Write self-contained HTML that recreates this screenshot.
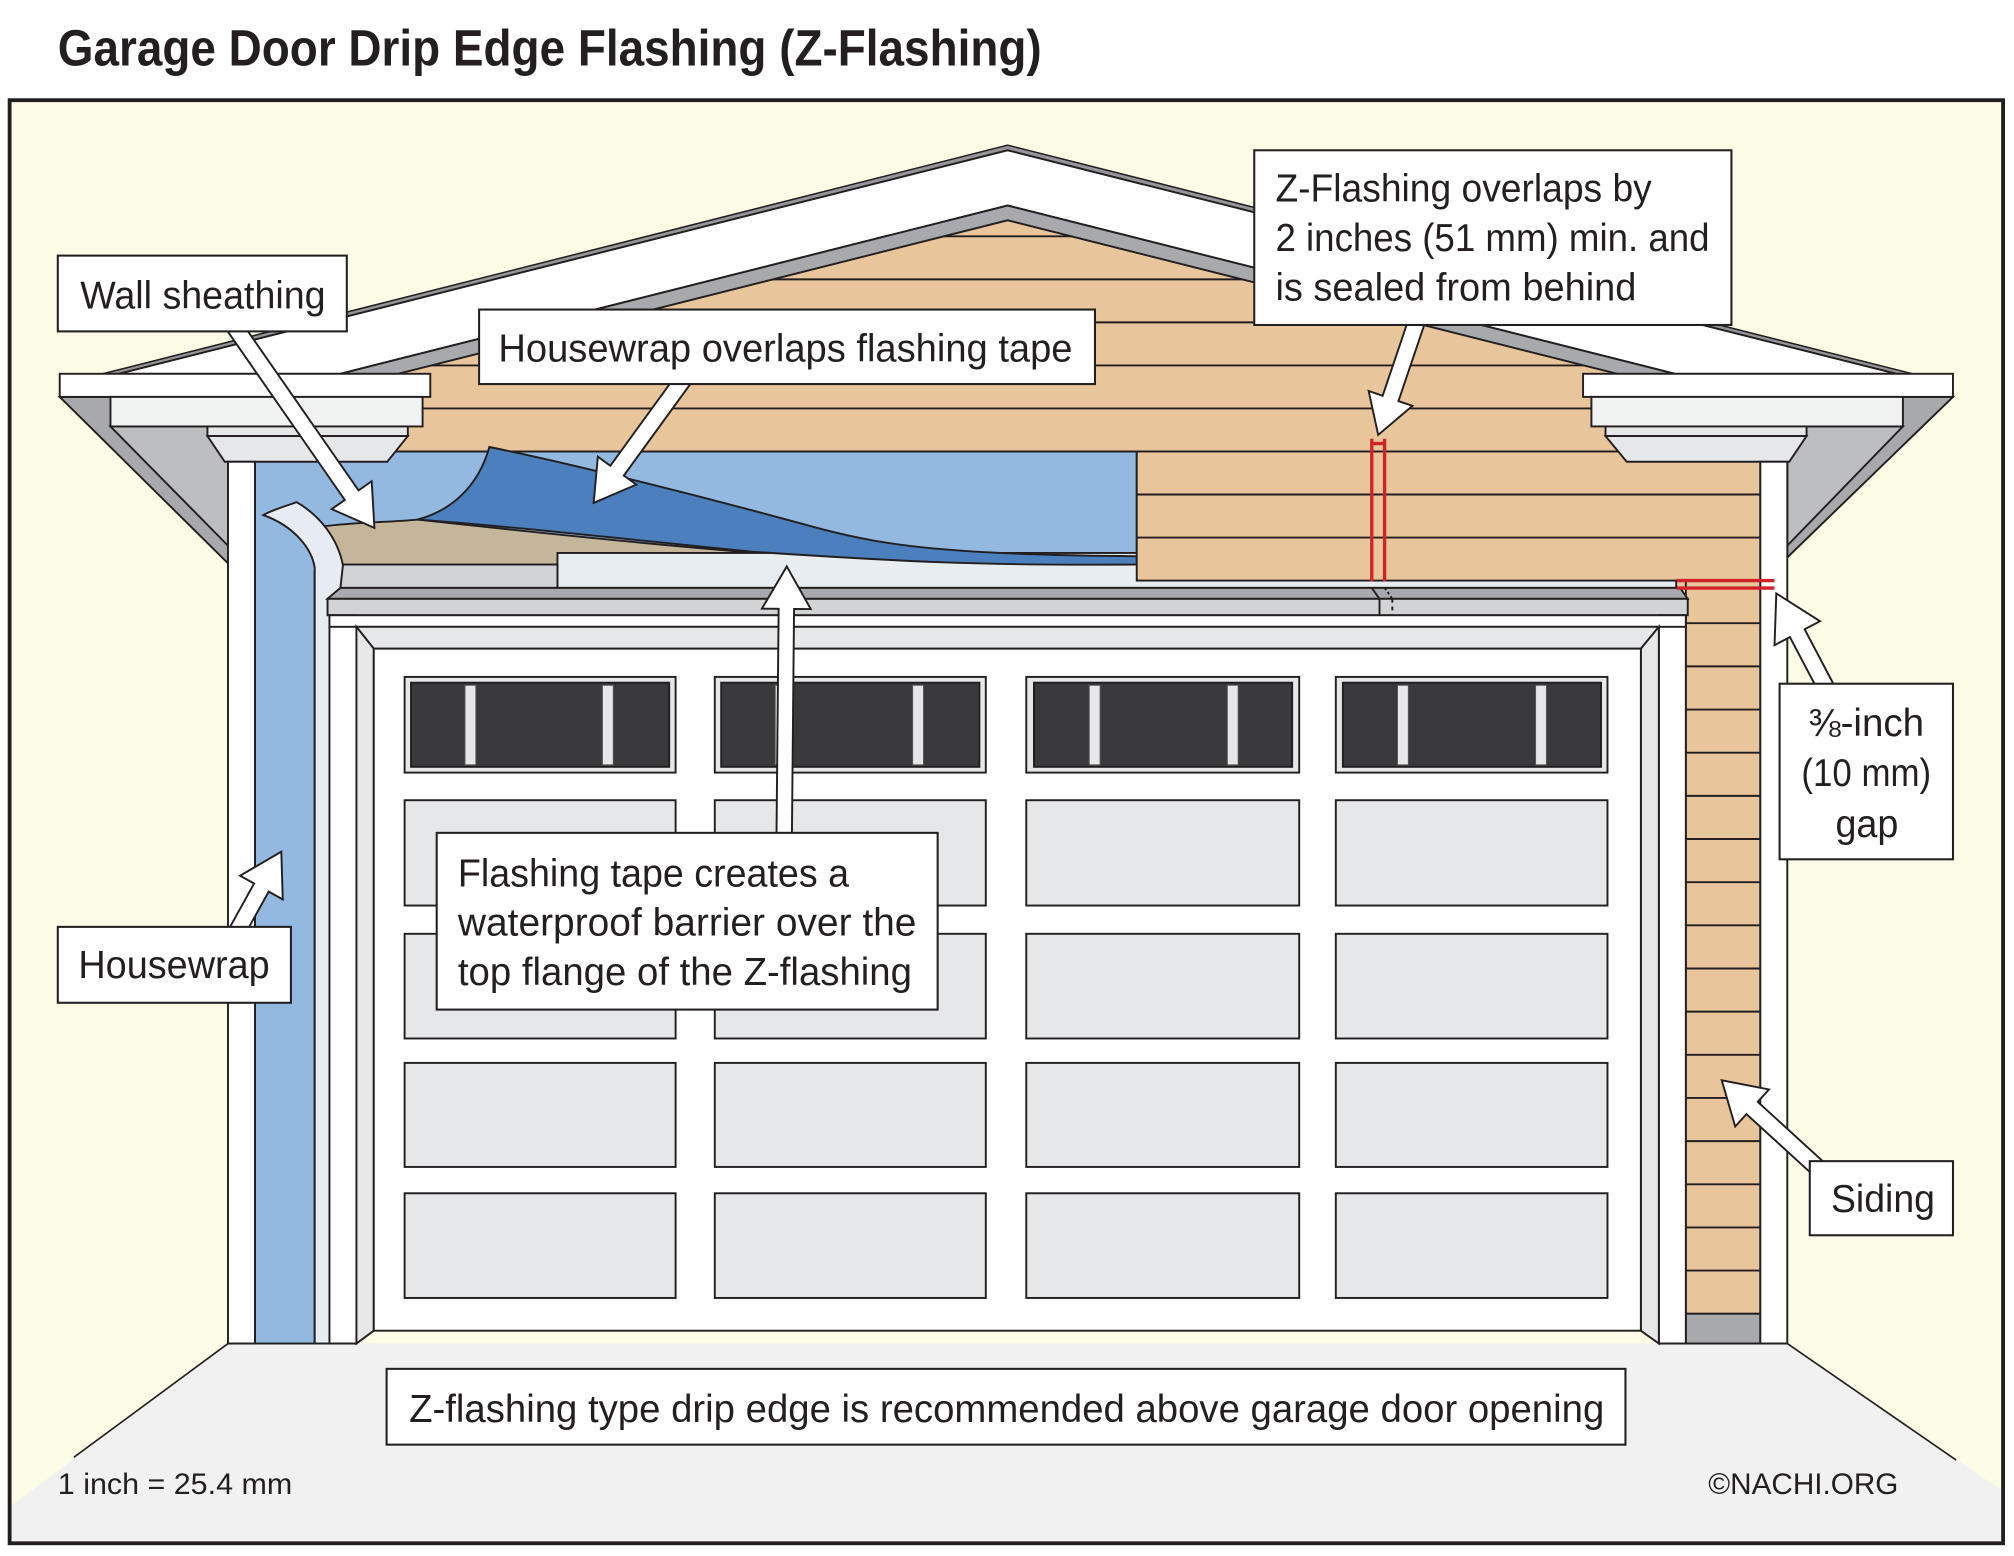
<!DOCTYPE html>
<html><head><meta charset="utf-8"><style>
html,body{margin:0;padding:0;background:#fff;}
svg{display:block;}
text{font-family:"Liberation Sans Narrow","Liberation Sans",sans-serif;fill:#231f20;}
</style></head><body>
<svg width="2014" height="1556" viewBox="0 0 1568 1211.4" preserveAspectRatio="none" xmlns="http://www.w3.org/2000/svg">
<defs>
<clipPath id="tanclip"><path d="M178,291 L310,291 L784.5,171.5 L1259,291 L1392,291 L1392,460 L178,460 Z"/></clipPath>
</defs>
<rect width="1568" height="1211.4" fill="#fff"/>
<text x="45" y="51" font-size="40" font-weight="bold" textLength="766" lengthAdjust="spacingAndGlyphs">Garage Door Drip Edge Flashing (Z-Flashing)</text>
<rect x="7.5" y="78" width="1552" height="1123.5" fill="#fcfce6"/>
<!-- floor -->
<path d="M9,1172 L177.5,1046 L1391.5,1046 L1558,1160 L1558,1200 L9,1200 Z" fill="#f1f1f2"/>
<g stroke="#231f20" stroke-width="1.3" fill="none">
<line x1="177.5" y1="1046" x2="57.5" y2="1134.6"/>
<line x1="1391.5" y1="1046" x2="1523" y2="1136.7"/>
</g>
<!-- tan gable -->
<path d="M178,291 L310,291 L784.5,171.5 L1259,291 L1392,291 L1392,460 L178,460 Z" fill="#e8c59b"/>
<g clip-path="url(#tanclip)" stroke="#231f20" stroke-width="1.5">
<line x1="170" y1="184" x2="1400" y2="184"/>
<line x1="170" y1="217.5" x2="1400" y2="217.5"/>
<line x1="170" y1="251" x2="1400" y2="251"/>
<line x1="170" y1="284.5" x2="1400" y2="284.5"/>
<line x1="170" y1="318" x2="1400" y2="318"/>
<line x1="170" y1="351.5" x2="1400" y2="351.5"/>
</g>
<!-- roof -->
<path d="M80,291 L784.5,113 L1489,291 L1476.5,291 L784.5,117 L92.5,291 Z" fill="#939598" stroke="#231f20" stroke-width="1.2"/>
<path d="M92.5,291 L784.5,117 L1476.5,291 L1304,291 L784.5,160 L265,291 Z" fill="#fff" stroke="#231f20" stroke-width="1.5"/>
<path d="M265,291 L784.5,160 L1304,291 L1259,291 L784.5,171.5 L310,291 Z" fill="#a7a9ac" stroke="#231f20" stroke-width="1.5"/>
<g stroke="#231f20" stroke-width="1.5">
<!-- housewrap light -->
<path d="M198.5,351.5 L885,351.5 L885,445 L245,445 L245,1046 L198.5,1046 Z" fill="#94b9e1"/>
<!-- sheathing -->
<path d="M250,410 C280,406 300,407 325,404.5 C430,416 520,425 590,430.5 L434,430.5 L434,440 L250,440 Z" fill="#c4b59b"/>
<!-- flashing tape -->
<rect x="434" y="430.5" width="871" height="27.2" fill="#e8edf1"/>
<rect x="265" y="439.5" width="169" height="18.2" fill="#d1d3d4"/>
<!-- dark housewrap flap -->
<path d="M325,404.5 C350,398 372,380 381,348 C450,362 560,390 640,412 C690,425 740,432 885,433 L885,439.5 C760,440.5 700,437 585,429.5 C480,419 400,410 325,404.5 Z" fill="#4b7fbd"/>
<!-- lower siding block -->
<rect x="885" y="351.5" width="485.5" height="100.5" fill="#e8c59b"/>
<line x1="885" y1="385" x2="1370.5" y2="385"/>
<line x1="885" y1="418.5" x2="1370.5" y2="418.5"/>
<!-- right siding strip -->
<rect x="1312.5" y="452" width="58" height="570.8" fill="#e8c59b"/>
<rect x="1312.5" y="1022.8" width="58" height="23.2" fill="#a7a9ac"/>
<line x1="1312.5" y1="485.2" x2="1370.5" y2="485.2"/>
<line x1="1312.5" y1="518.8" x2="1370.5" y2="518.8"/>
<line x1="1312.5" y1="552.4" x2="1370.5" y2="552.4"/>
<line x1="1312.5" y1="586" x2="1370.5" y2="586"/>
<line x1="1312.5" y1="619.6" x2="1370.5" y2="619.6"/>
<line x1="1312.5" y1="653.2" x2="1370.5" y2="653.2"/>
<line x1="1312.5" y1="686.8" x2="1370.5" y2="686.8"/>
<line x1="1312.5" y1="720.4" x2="1370.5" y2="720.4"/>
<line x1="1312.5" y1="754" x2="1370.5" y2="754"/>
<line x1="1312.5" y1="787.6" x2="1370.5" y2="787.6"/>
<line x1="1312.5" y1="821.2" x2="1370.5" y2="821.2"/>
<line x1="1312.5" y1="854.8" x2="1370.5" y2="854.8"/>
<line x1="1312.5" y1="888.4" x2="1370.5" y2="888.4"/>
<line x1="1312.5" y1="922" x2="1370.5" y2="922"/>
<line x1="1312.5" y1="955.6" x2="1370.5" y2="955.6"/>
<line x1="1312.5" y1="989.2" x2="1370.5" y2="989.2"/>
<!-- eaves -->
<polygon points="46.5,309 177.5,438.6 177.5,309" fill="#a7a9ac"/>
<polygon points="86,332 177.5,424.8 177.5,332" fill="#bcbec0"/>
<polygon points="1520.5,309 1391.5,434 1391.5,309" fill="#a7a9ac"/>
<polygon points="1481.5,332 1391.5,424.8 1391.5,332" fill="#bcbec0"/>
<rect x="46.5" y="291" width="288.5" height="18" fill="#fff"/>
<rect x="1232.5" y="291" width="288" height="18" fill="#fff"/>
<rect x="86" y="309" width="243" height="23" fill="#f1f2f2"/>
<rect x="1239" y="309" width="242.5" height="23" fill="#f1f2f2"/>
<rect x="161.5" y="332" width="156" height="7.5" fill="#e6e7e8"/>
<polygon points="161.5,339.5 317.5,339.5 301.5,359.5 175,359.5" fill="#e6e7e8"/>
<rect x="1250" y="332" width="156.5" height="7.5" fill="#e6e7e8"/>
<polygon points="1250,339.5 1406.5,339.5 1393,359.5 1266.5,359.5" fill="#e6e7e8"/>
<!-- wall columns -->
<rect x="177.5" y="359.5" width="21" height="686.5" fill="#fff"/>
<rect x="1370.5" y="359.5" width="21" height="686.5" fill="#fff"/>
<!-- curl / tape strip -->
<path d="M205,401 C212,397 222,394 231,391 C250,402 263,420 267,440 L265,458 L256.5,466 L256.5,1046 L245,1046 L245,442 C243,428 230,410 205,401 Z" fill="#e6ecf1"/>
<!-- drip edge -->
<polygon points="265,457.7 1308,457.7 1314,466.2 255,466.2" fill="#a7a9ac"/>
<rect x="255" y="466.2" width="1059" height="12.8" fill="#d1d3d4"/>
<line x1="1068" y1="457.7" x2="1074" y2="466.2"/>
<line x1="1074" y1="466.2" x2="1074" y2="479"/>
<line x1="1078" y1="457.7" x2="1084" y2="466.2" stroke-dasharray="2,2"/>
<line x1="1084" y1="466.2" x2="1084" y2="479" stroke-dasharray="3,3"/>
<!-- jamb -->
<rect x="256.5" y="479" width="21" height="567" fill="#fff"/>
<rect x="1291.5" y="479" width="21" height="567" fill="#fff"/>
<rect x="256.5" y="479" width="1056" height="9" fill="#fff"/>
<polygon points="277.5,488 1291.5,488 1277.5,505 291,505" fill="#e6e7e8"/>
<polygon points="277.5,488 291,505 291,1036 277.5,1046" fill="#e6e7e8"/>
<polygon points="1291.5,488 1291.5,1046 1277.5,1036 1277.5,505" fill="#e6e7e8"/>
<rect x="291" y="505" width="986.5" height="531" fill="#fff"/>
<line x1="177.5" y1="1046" x2="277.5" y2="1046"/>
<line x1="1291.5" y1="1046" x2="1391.5" y2="1046"/>
</g>
<!-- windows -->
<g stroke="#231f20" stroke-width="1.5">
<rect x="315" y="527" width="211" height="74.5" fill="#e6e7e8"/>
<rect x="556.5" y="527" width="211" height="74.5" fill="#e6e7e8"/>
<rect x="799" y="527" width="212.5" height="74.5" fill="#e6e7e8"/>
<rect x="1040" y="527" width="211.5" height="74.5" fill="#e6e7e8"/>
<rect x="320" y="531.5" width="201" height="65.5" fill="#3a3a3c"/>
<rect x="561.5" y="531.5" width="201" height="65.5" fill="#3a3a3c"/>
<rect x="805" y="531.5" width="201" height="65.5" fill="#3a3a3c"/>
<rect x="1045.5" y="531.5" width="201" height="65.5" fill="#3a3a3c"/>
</g>
<g fill="#e6e7e8" stroke="#555" stroke-width="0.8">
<rect x="362" y="533.5" width="8.5" height="62"/>
<rect x="469" y="533.5" width="8.5" height="62"/>
<rect x="603.5" y="533.5" width="8.5" height="62"/>
<rect x="710.5" y="533.5" width="8.5" height="62"/>
<rect x="848" y="533.5" width="8.5" height="62"/>
<rect x="955.5" y="533.5" width="8.5" height="62"/>
<rect x="1088" y="533.5" width="8.5" height="62"/>
<rect x="1195.5" y="533.5" width="8.5" height="62"/>
</g>
<!-- panels -->
<g fill="#e6e7e8" stroke="#231f20" stroke-width="1.5">
<rect x="315" y="623" width="211" height="82"/>
<rect x="556.5" y="623" width="211" height="82"/>
<rect x="799" y="623" width="212.5" height="82"/>
<rect x="1040" y="623" width="211.5" height="82"/>
<rect x="315" y="727" width="211" height="81.5"/>
<rect x="556.5" y="727" width="211" height="81.5"/>
<rect x="799" y="727" width="212.5" height="81.5"/>
<rect x="1040" y="727" width="211.5" height="81.5"/>
<rect x="315" y="827.5" width="211" height="81"/>
<rect x="556.5" y="827.5" width="211" height="81"/>
<rect x="799" y="827.5" width="212.5" height="81"/>
<rect x="1040" y="827.5" width="211.5" height="81"/>
<rect x="315" y="929" width="211" height="81.5"/>
<rect x="556.5" y="929" width="211" height="81.5"/>
<rect x="799" y="929" width="212.5" height="81.5"/>
<rect x="1040" y="929" width="211.5" height="81.5"/>
</g>
<!-- red marks -->
<g stroke="#d2232a" stroke-width="2.6" fill="none">
<line x1="1068" y1="341.6" x2="1068" y2="452.5"/>
<line x1="1078" y1="341.6" x2="1078" y2="452.5"/>
<line x1="1068" y1="345.3" x2="1078" y2="345.3"/>
<line x1="1305.5" y1="452" x2="1381.5" y2="452"/>
<line x1="1305.5" y1="457.8" x2="1381.5" y2="457.8"/>
</g>
<!-- arrows -->
<g fill="#fff" stroke="#231f20" stroke-width="1.5" stroke-linejoin="miter">
<polygon transform="translate(181,252) rotate(55.2)" points="0,-6.5 162.6,-6.5 162.6,-19 193.6,0 162.6,19 162.6,6.5 0,6.5"/>
<polygon transform="translate(534.5,292) rotate(126)" points="0,-6.5 92,-6.5 92,-18.5 123,0 92,18.5 92,6.5 0,6.5"/>
<polygon transform="translate(1104,247) rotate(108.7)" points="0,-6.5 66.7,-6.5 66.7,-18 96.7,0 66.7,18 66.7,6.5 0,6.5"/>
<polygon transform="translate(1423,538) rotate(-117.8)" points="0,-6.5 50.9,-6.5 50.9,-20 85.9,0 50.9,20 50.9,6.5 0,6.5"/>
<polygon transform="translate(183,728) rotate(-61)" points="0,-6.5 42.3,-6.5 42.3,-19 74.3,0 42.3,19 42.3,6.5 0,6.5"/>
<polygon transform="translate(610.5,655) rotate(-89.46)" points="0,-6 181,-6 181,-19 214,0 181,19 181,6 0,6"/>
<polygon transform="translate(1416,910) rotate(-137.6)" points="0,-6.5 70.3,-6.5 70.3,-19.5 102.3,0 70.3,19.5 70.3,6.5 0,6.5"/>
</g>
<!-- label boxes -->
<g fill="#fff" stroke="#231f20" stroke-width="1.6">
<rect x="45" y="199" width="225" height="59"/>
<rect x="373" y="241" width="479.5" height="58"/>
<rect x="976.5" y="117" width="371.5" height="136"/>
<rect x="1385.5" y="532.3" width="135" height="136.7"/>
<rect x="45" y="721.6" width="181.5" height="59.1"/>
<rect x="340" y="648.4" width="390" height="137.6"/>
<rect x="1409" y="904" width="111.5" height="57.7"/>
<rect x="301" y="1065.7" width="964.5" height="59"/>
</g>
<g font-size="30">
<text x="62.5" y="240" textLength="191" lengthAdjust="spacingAndGlyphs">Wall sheathing</text>
<text x="388" y="281.5" textLength="447" lengthAdjust="spacingAndGlyphs">Housewrap overlaps flashing tape</text>
<text x="993" y="157" textLength="293" lengthAdjust="spacingAndGlyphs">Z-Flashing overlaps by</text>
<text x="993" y="195.5" textLength="338" lengthAdjust="spacingAndGlyphs">2 inches (51 mm) min. and</text>
<text x="993" y="234" textLength="281" lengthAdjust="spacingAndGlyphs">is sealed from behind</text>
<text x="1408" y="573" textLength="90" lengthAdjust="spacingAndGlyphs">⅜-inch</text>
<text x="1402.5" y="612" textLength="101" lengthAdjust="spacingAndGlyphs">(10 mm)</text>
<text x="1429" y="651.5" textLength="49" lengthAdjust="spacingAndGlyphs">gap</text>
<text x="61" y="761.5" textLength="149" lengthAdjust="spacingAndGlyphs">Housewrap</text>
<text x="356.5" y="690" textLength="304.5" lengthAdjust="spacingAndGlyphs">Flashing tape creates a</text>
<text x="356.5" y="728.5" textLength="357" lengthAdjust="spacingAndGlyphs">waterproof barrier over the</text>
<text x="356.5" y="767" textLength="353.5" lengthAdjust="spacingAndGlyphs">top flange of the Z-flashing</text>
<text x="1425.5" y="943.5" textLength="81" lengthAdjust="spacingAndGlyphs">Siding</text>
<text x="318.5" y="1107" textLength="930.5" lengthAdjust="spacingAndGlyphs">Z-flashing type drip edge is recommended above garage door opening</text>
</g>
<text x="45" y="1163" font-size="23" textLength="182.5" lengthAdjust="spacingAndGlyphs">1 inch = 25.4 mm</text>
<text x="1330" y="1163" font-size="23" textLength="148" lengthAdjust="spacingAndGlyphs">©NACHI.ORG</text>
<!-- frame border -->
<rect x="7.5" y="78" width="1552" height="1123.5" fill="none" stroke="#231f20" stroke-width="3"/>
</svg>
</body></html>
